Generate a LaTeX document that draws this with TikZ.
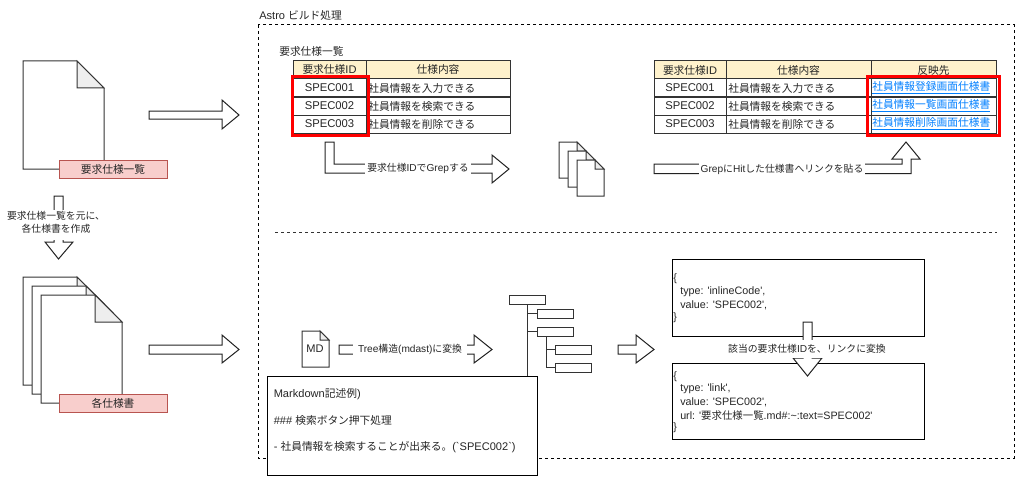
\documentclass[tikz,border=0pt]{standalone}
\usepackage{fontspec}
\setmainfont{Liberation Sans}
\newfontfamily\cjk[Scale=0.97]{Noto Sans CJK JP}
\newfontfamily\lat{Liberation Sans}
\newcommand{\J}[1]{{\cjk #1}}
\newcommand{\fs}{\fontsize{8.3}{10}\selectfont}
\newcommand{\fsa}{\fontsize{7.6}{10}\selectfont}
\newcommand{\fsc}{\fontsize{8.05}{10}\selectfont}
\newcommand{\qq}{{\lat\char"0027\relax}}
\newcommand{\gq}{{\lat\char"0060\relax}}
\definecolor{ink}{HTML}{333333}
\definecolor{arrowink}{HTML}{222222}
\definecolor{hdr}{HTML}{FFF2CC}
\definecolor{pinkf}{HTML}{F8CECC}
\definecolor{pinkd}{HTML}{B85450}
\definecolor{linkc}{HTML}{007FFF}
\definecolor{foldc}{HTML}{EEEEEE}
\tikzset{
  every node/.style={font=\fs,text=black!85,inner sep=0pt},
  docline/.style={draw=ink,line width=0.75pt,fill=white,line join=miter},
  foldline/.style={draw=ink,line width=0.75pt,fill=foldc,line join=miter},
  blockarrow/.style={draw=arrowink,line width=0.75pt,fill=white,line join=miter},
  cellline/.style={draw=ink,line width=0.75pt},
  hdrcell/.style={cellline,fill=hdr},
  bodycell/.style={cellline,fill=white},
  redbox/.style={draw=red,line width=2.25pt},
  pinklabel/.style={draw=pinkd,line width=0.75pt,fill=pinkf,minimum width=81pt,minimum height=13.5pt},
  whitelabel/.style={fill=white,font=\fsa,inner xsep=1.5pt,inner ysep=2pt},
  framebox/.style={draw=black,line width=0.75pt,fill=white},
  treebox/.style={draw=ink,line width=0.75pt,fill=white,minimum width=27pt,minimum height=6.75pt},
  treeline/.style={draw=ink,line width=0.75pt},
  dashframe/.style={draw=black,line width=0.75pt,dash pattern=on 2.25pt off 2.25pt},
  dashsep/.style={draw=ink,line width=0.75pt,dash pattern=on 2.25pt off 2.25pt},
  code/.style={anchor=west,align=left,font=\fsc},
  specid/.style={font=\fontsize{8.45}{10}\selectfont},
}
\newcommand{\docicon}[5]{%
  \draw[docline] (#1,#2) -- (#1+#3-#5,#2) -- (#1+#3,#2+#5) -- (#1+#3,#2+#4) -- (#1,#2+#4) -- cycle;
  \draw[foldline] (#1+#3-#5,#2) -- (#1+#3,#2+#5) -- (#1+#3-#5,#2+#5) -- cycle;
}
\begin{document}
\begin{tikzpicture}[x=0.75pt,y=-0.75pt]
\useasboundingbox (0,0) rectangle (1024,485);

% outer frame and separator
\draw[dashframe] (258,25) rectangle (1014,458);
\node[anchor=west] (astro) at (259,15) {Astro \J{ビルド処理}};
\draw[dashsep] (275,232) -- (997,232);

% left column
\docicon{23}{61}{81}{108}{27}
\node[pinklabel] (reqlabel) at (113,169) {\J{要求仕様一覧}};
\draw[blockarrow] (149,111) -- (222,111) -- (222,100) -- (239,115) -- (222,129) -- (222,119) -- (149,119) -- cycle;
\draw[blockarrow] (54,196) -- (63,196) -- (63,242) -- (73,242) -- (58.5,259) -- (45,242) -- (54,242) -- cycle;
\node[fill=white,minimum width=69pt,minimum height=22pt] (makebg) at (56.5,225) {};
\node[align=center,font=\fsa] (makelabel) at (56,222.5) {\J{要求仕様一覧を元に、}\\[-0.4pt]\J{各仕様書を作成}};

\docicon{23}{277}{81}{108}{27}
\docicon{32}{286}{81}{108}{27}
\docicon{41}{295}{81}{108}{27}
\node[pinklabel] (speclabel) at (113,403) {\J{各仕様書}};
\draw[blockarrow] (149,345) -- (222,345) -- (222,335) -- (239,349.5) -- (222,363) -- (222,354) -- (149,354) -- cycle;

% first table
\node[anchor=west] (tabletitle) at (279,51) {\J{要求仕様一覧}};
\draw[hdrcell] (293,60.5) rectangle node (a0) {\J{要求仕様}ID} (366,79);
\draw[hdrcell] (366,60.5) rectangle node (b0) {\J{仕様内容}} (510,79);
\draw[bodycell] (293,79) rectangle node[specid] (a1) {SPEC001} (366,97);
\draw[bodycell] (293,97) rectangle node[specid] (a2) {SPEC002} (366,115);
\draw[bodycell] (293,115) rectangle node[specid] (a3) {SPEC003} (366,133);
\draw[bodycell] (366,79) rectangle (510,97);
\draw[bodycell] (366,97) rectangle (510,115);
\draw[bodycell] (366,115) rectangle (510,133);
\node[anchor=west] (b1) at (368,88) {\J{社員情報を入力できる}};
\node[anchor=west] (b2) at (368,106) {\J{社員情報を検索できる}};
\node[anchor=west] (b3) at (368,124) {\J{社員情報を削除できる}};
\draw[redbox] (292,77) rectangle (368,135);

% first L arrow
\draw[blockarrow] (325,142) -- (334,142) -- (334,164) -- (492,164) -- (492,155) -- (509,169) -- (492,183) -- (492,173) -- (325,173) -- cycle;
\node[whitelabel] (greplabel) at (418,168.5) {\J{要求仕様}ID\J{で}Grep\J{する}};

% small stack
\docicon{559}{142}{27}{36}{9}
\docicon{568}{151}{27}{36}{9}
\docicon{577}{160}{27}{36}{9}

% second table
\draw[hdrcell] (654,61) rectangle node (c0) {\J{要求仕様}ID} (726,79);
\draw[hdrcell] (726,61) rectangle node (d0) {\J{仕様内容}} (871,79);
\draw[hdrcell] (871,61) rectangle node (e0) {\J{反映先}} (996,79);
\draw[bodycell] (654,79) rectangle node[specid] (c1) {SPEC001} (726,97);
\draw[bodycell] (654,97) rectangle node[specid] (c2) {SPEC002} (726,115);
\draw[bodycell] (654,115) rectangle node[specid] (c3) {SPEC003} (726,133);
\draw[bodycell] (726,79) rectangle (871,97);
\draw[bodycell] (726,97) rectangle (871,115);
\draw[bodycell] (726,115) rectangle (871,133);
\draw[bodycell] (871,79) rectangle (996,97);
\draw[bodycell] (871,97) rectangle (996,115);
\draw[bodycell] (871,115) rectangle (996,133);
\node[anchor=west] (d1) at (728,88) {\J{社員情報を入力できる}};
\node[anchor=west] (d2) at (728,106) {\J{社員情報を検索できる}};
\node[anchor=west] (d3) at (728,124) {\J{社員情報を削除できる}};
\node[anchor=west,text=linkc] (e1) at (872,88) {\underline{\J{社員情報登録画面仕様書}}};
\node[anchor=west,text=linkc] (e2) at (872,106) {\underline{\J{社員情報一覧画面仕様書}}};
\node[anchor=west,text=linkc] (e3) at (872,124) {\underline{\J{社員情報削除画面仕様書}}};
\draw[redbox] (867,77) rectangle (999,135);

% second L arrow
\draw[blockarrow] (654,164) -- (902,164) -- (902,159) -- (892,159) -- (906,142) -- (920,159) -- (911,159) -- (911,173.5) -- (654,173.5) -- cycle;
\node[whitelabel] (hitlabel) at (782,169) {Grep\J{に}Hit\J{した仕様書へリンクを貼る}};

% lower row
\docicon{302}{331}{27}{36}{9}
\node (mdtext) at (315,349) {MD};
\draw[blockarrow] (339,345) -- (474,345) -- (474,335) -- (492,349.5) -- (474,363) -- (474,354) -- (339,354) -- cycle;
\node[whitelabel,inner xsep=3.5pt] (treelabel) at (410,349) {Tree\J{構造}(mdast)\J{に変換}};

% tree
\node[treebox] (root) at (527.5,299.5) {};
\node[treebox] (t1) at (555,313.5) {};
\node[treebox] (t2) at (555,331.5) {};
\node[treebox] (t3) at (573,349.5) {};
\node[treebox] (t4) at (573,367.5) {};

% markdown example
\node[framebox,minimum width=202.5pt,minimum height=74.25pt] (mdbox) at (402,425.5) {};
\node[anchor=west] (mdl1) at (273.5,394) {Markdown\J{記述例})};
\node[anchor=west] (mdl2) at (273.5,420) {\#\#\# \J{検索ボタン押下処理}};
\node[anchor=west] (mdl3) at (273.5,447) {- \J{社員情報を検索することが出来る。}(\gq SPEC002\gq)};

\draw[treeline] (root.south) -- (root.south |- mdbox.north);
\draw[treeline] (root.south |- t1.west) -- (t1.west);
\draw[treeline] (root.south |- t2.west) -- (t2.west);
\draw[treeline] (root.east |- t2.south) -- (root.east |- t4.west);
\draw[treeline] (root.east |- t3.west) -- (t3.west);
\draw[treeline] (root.east |- t4.west) -- (t4.west);

\draw[blockarrow] (618,345) -- (636,345) -- (636,335) -- (654,349.5) -- (636,363) -- (636,354) -- (618,354) -- cycle;

% code boxes
\node[framebox,minimum width=189pt,minimum height=57.75pt] (boxa) at (798,297.5) {};
\node[framebox,minimum width=189pt,minimum height=57pt] (boxb) at (798,401) {};
\node[code] (a4) at (673,279) {\{};
\node[code] (a5) at (680,291.5) {type: \qq inlineCode\qq,};
\node[code] (a6) at (680,305) {value: \qq SPEC002\qq,};
\node[code] (a7) at (673,318) {\}};
\node[code] (b4) at (673,377) {\{};
\node[code] (b5) at (680,389) {type: \qq link\qq,};
\node[code] (b6) at (680,402) {value: \qq SPEC002\qq,};
\node[code] (b7) at (680,416) {url: \qq\J{要求仕様一覧}.md\#:\char"007E\relax:text=SPEC002\qq};
\node[code] (b8) at (673,428) {\}};

\draw[blockarrow] (803,322) -- (812,322) -- (812,358) -- (822,358) -- (807.5,376) -- (793,358) -- (803,358) -- cycle;
\node[whitelabel,inner xsep=2pt,inner ysep=3.5pt] (convlabel) at (807,349) {\J{該当の要求仕様}ID\J{を、リンクに変換}};
\end{tikzpicture}
\end{document}
